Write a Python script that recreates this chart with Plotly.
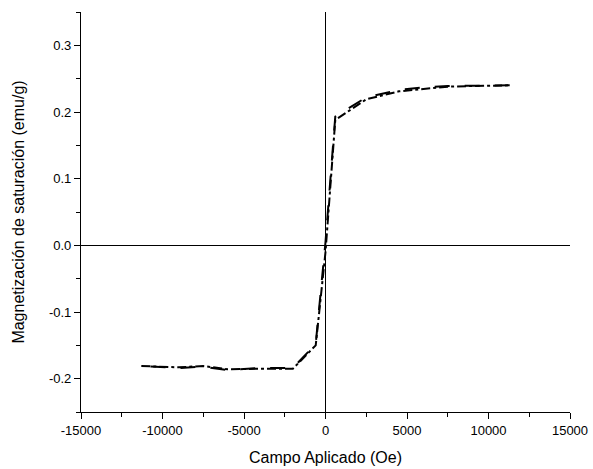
import plotly.graph_objects as go

# Descending branch (from +H to -H)
field_desc = [11300, 9000, 7500, 6000, 4500, 2500, 600, 0, -600, -2000, -4000, -6000, -7500, -9000, -11300]
mag_desc = [0.240, 0.240, 0.239, 0.237, 0.233, 0.222, 0.193, 0.005, -0.148, -0.184, -0.184, -0.187, -0.182, -0.184, -0.181]

# Ascending branch (from -H to +H)
field_asc = [-11300, -9000, -7500, -6000, -4000, -2000, -600, 0, 600, 2500, 4500, 6000, 7500, 9000, 11300]
mag_asc = [-0.181, -0.183, -0.181, -0.186, -0.185, -0.185, -0.150, -0.010, 0.188, 0.219, 0.231, 0.235, 0.238, 0.239, 0.240]

x_ticks = [-15000, -10000, -5000, 0, 5000, 10000, 15000]
x_ticklabels = ["-15000", "-10000", "-5000", "0", "5000", "10000", "15000"]
y_ticks = [-0.2, -0.1, 0.0, 0.1, 0.2, 0.3]
y_ticklabels = ["-0.2", "-0.1", "0.0", "0.1", "0.2", "0.3"]

FONT = "Liberation Sans, Arial, sans-serif"

fig = go.Figure()
fig.add_trace(go.Scatter(x=field_desc, y=mag_desc, mode="lines",
                         line=dict(color="black", width=2, dash="longdash"), showlegend=False))
fig.add_trace(go.Scatter(x=field_asc, y=mag_asc, mode="lines",
                         line=dict(color="black", width=2, dash="dashdot"), showlegend=False))

axis_common = dict(
    showline=True, linecolor="black", linewidth=1.2, mirror=False,
    ticks="outside", ticklen=6, tickwidth=1.2, tickcolor="black",
    showgrid=False, zeroline=True, zerolinecolor="black", zerolinewidth=1.2,
    automargin=False,
    tickfont=dict(family=FONT, size=13, color="black"),
    title_font=dict(family=FONT, size=16, color="black"),
)

fig.update_layout(
    width=593, height=469,
    margin=dict(l=81, r=23, t=12, b=57),
    paper_bgcolor="white", plot_bgcolor="white",
    xaxis=dict(range=[-15000, 15000], tickmode="array", tickvals=x_ticks, ticktext=x_ticklabels,
               minor=dict(ticks="outside", dtick=2500, tick0=0, ticklen=4, tickcolor="black", tickwidth=1.2),
               title=dict(text="Campo Aplicado (Oe)", standoff=15), **axis_common),
    yaxis=dict(range=[-0.25, 0.35], tickmode="array", tickvals=y_ticks, ticktext=y_ticklabels,
               minor=dict(ticks="outside", dtick=0.05, tick0=0, ticklen=4, tickcolor="black", tickwidth=1.2),
               title=dict(text="Magnetización de saturación (emu/g)", standoff=20), **axis_common),
)

fig.write_html("out.html")
